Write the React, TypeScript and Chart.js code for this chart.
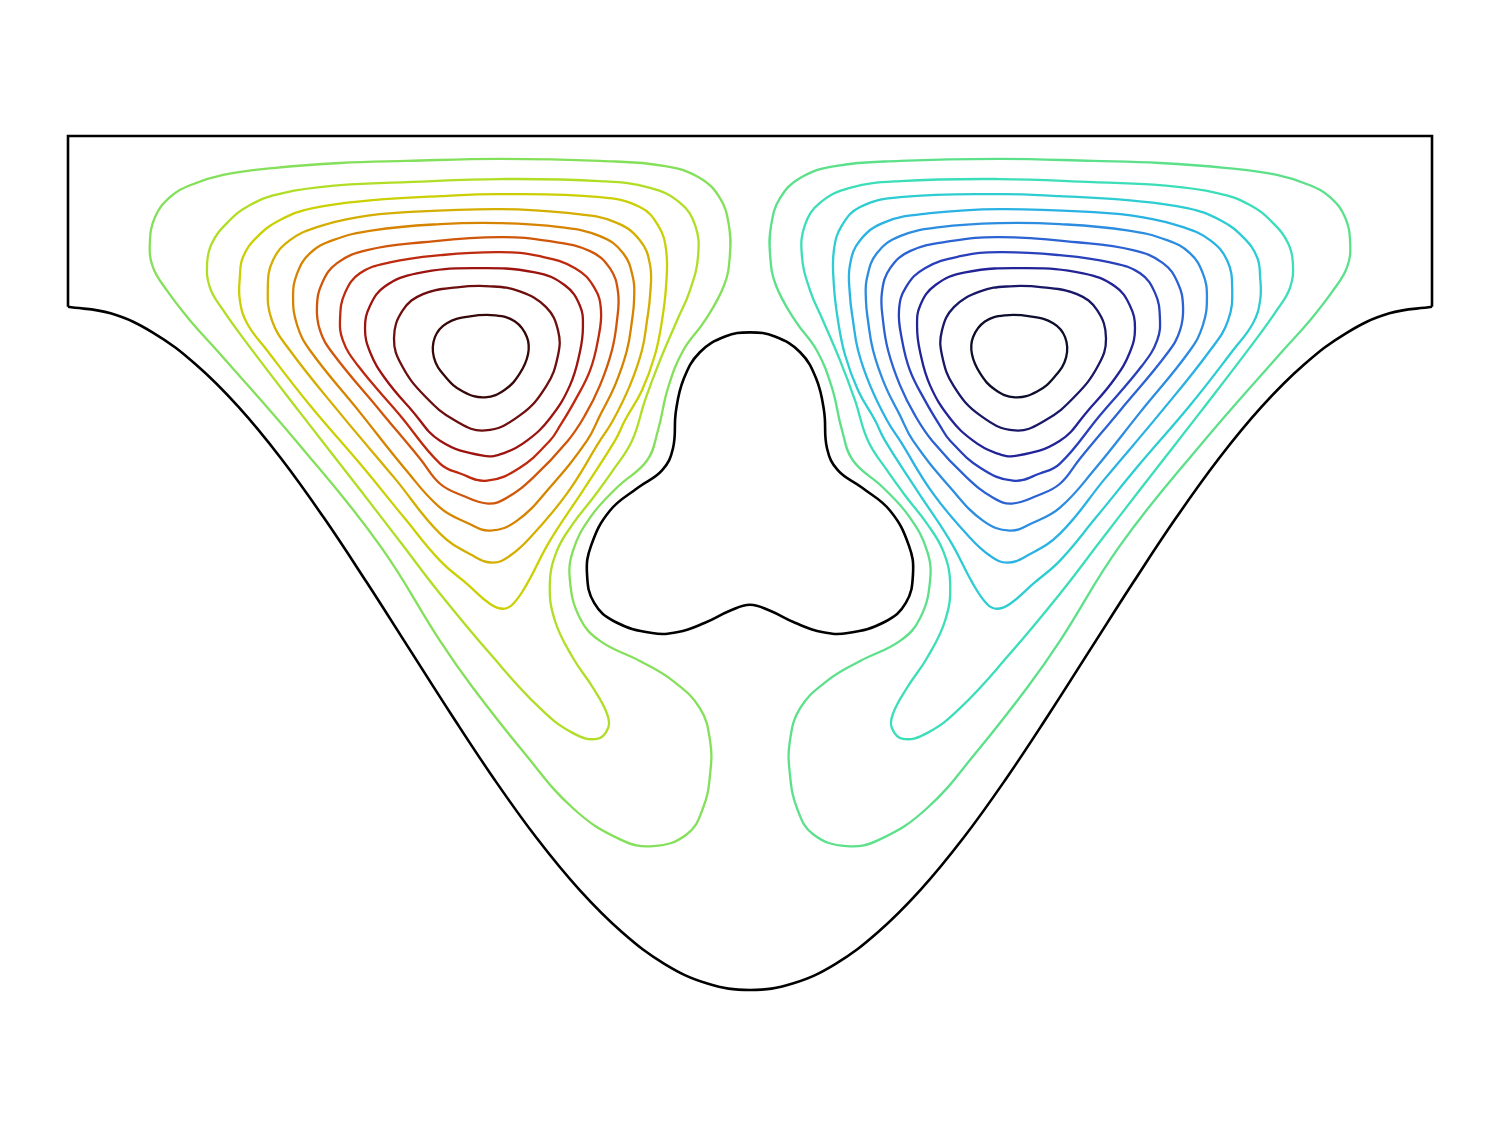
import { useEffect, useRef } from "react";
import { Chart, registerables } from "chart.js";

Chart.register(...registerables);

type P = [number, number];

// Domain walls (x in [-2, 2], y in [-2.5, 0])
const topWall: P[] = [[-2, -0.5], [-2, 0], [2, 0], [2, -0.5]];
const bottomWall: P[] = [
  [-2, -0.5], [-1.875, -0.519], [-1.75, -0.576], [-1.625, -0.669], [-1.5, -0.793],
  [-1.375, -0.944], [-1.25, -1.117], [-1.125, -1.305], [-1, -1.5], [-0.875, -1.695],
  [-0.75, -1.883], [-0.625, -2.056], [-0.5, -2.207], [-0.375, -2.331], [-0.25, -2.424],
  [-0.125, -2.481], [0, -2.5], [0.125, -2.481], [0.25, -2.424], [0.375, -2.331],
  [0.5, -2.207], [0.625, -2.056], [0.75, -1.883], [0.875, -1.695], [1, -1.5],
  [1.125, -1.305], [1.25, -1.117], [1.375, -0.944], [1.5, -0.793], [1.625, -0.669],
  [1.75, -0.576], [1.875, -0.519], [2, -0.5],
];

// Trefoil obstacle
const obstacle: P[] = [
  [0, -0.575], [0.073, -0.587], [0.147, -0.633], [0.194, -0.71], [0.217, -0.804],
  [0.226, -0.915], [0.258, -0.979], [0.328, -1.029], [0.411, -1.097], [0.466, -1.199],
  [0.478, -1.282], [0.457, -1.367], [0.396, -1.422], [0.287, -1.455], [0.211, -1.452],
  [0.132, -1.425], [0.059, -1.39], [0, -1.372], [-0.059, -1.39], [-0.132, -1.425],
  [-0.211, -1.452], [-0.287, -1.455], [-0.396, -1.422], [-0.457, -1.367], [-0.478, -1.282],
  [-0.466, -1.199], [-0.411, -1.097], [-0.328, -1.029], [-0.258, -0.979], [-0.226, -0.915],
  [-0.217, -0.804], [-0.194, -0.71], [-0.147, -0.633], [-0.073, -0.587],
];

// Left vortex streamlines, outermost (L1) to innermost (L10)
const L1: P[] = [
  [-1.745, -0.238], [-1.701, -0.179], [-1.642, -0.144], [-1.545, -0.114], [-1.399, -0.094],
  [-1.202, -0.079], [-1.006, -0.073], [-0.733, -0.067], [-0.44, -0.073], [-0.249, -0.088],
  [-0.147, -0.123], [-0.088, -0.182], [-0.062, -0.261], [-0.059, -0.349], [-0.076, -0.437],
  [-0.132, -0.54], [-0.196, -0.628], [-0.24, -0.736], [-0.27, -0.862], [-0.302, -0.95],
  [-0.39, -1.029], [-0.469, -1.117], [-0.519, -1.214], [-0.528, -1.302], [-0.499, -1.411],
  [-0.44, -1.478], [-0.323, -1.537], [-0.226, -1.595], [-0.147, -1.675], [-0.117, -1.771],
  [-0.117, -1.868], [-0.138, -1.968], [-0.185, -2.044], [-0.284, -2.079], [-0.381, -2.059],
  [-0.519, -1.968], [-0.666, -1.801], [-0.812, -1.616], [-0.909, -1.478], [-1.085, -1.199],
  [-1.32, -0.906], [-1.563, -0.628], [-1.642, -0.54], [-1.71, -0.452], [-1.751, -0.384],
  [-1.76, -0.314],
];
const L2: P[] = [
  [-1.578, -0.314], [-1.534, -0.255], [-1.466, -0.202], [-1.37, -0.167], [-1.202, -0.144],
  [-1.006, -0.135], [-0.733, -0.126], [-0.44, -0.132], [-0.293, -0.152], [-0.205, -0.196],
  [-0.161, -0.261], [-0.152, -0.349], [-0.176, -0.452], [-0.214, -0.54], [-0.264, -0.657],
  [-0.308, -0.774], [-0.346, -0.892], [-0.402, -0.979], [-0.46, -1.059], [-0.519, -1.135],
  [-0.566, -1.214], [-0.587, -1.311], [-0.572, -1.419], [-0.519, -1.528], [-0.46, -1.616],
  [-0.419, -1.692], [-0.416, -1.733], [-0.449, -1.765], [-0.519, -1.748], [-0.616, -1.675],
  [-0.762, -1.516], [-0.909, -1.34], [-1.026, -1.188], [-1.144, -1.035], [-1.32, -0.809],
  [-1.475, -0.607], [-1.545, -0.51], [-1.584, -0.443], [-1.592, -0.372],
];
const L3: P[] = [
  [-1.487, -0.355], [-1.446, -0.296], [-1.378, -0.246], [-1.282, -0.211], [-1.106, -0.188],
  [-0.909, -0.176], [-0.733, -0.17], [-0.44, -0.179], [-0.323, -0.208], [-0.27, -0.261],
  [-0.246, -0.334], [-0.246, -0.437], [-0.258, -0.54], [-0.279, -0.642], [-0.317, -0.745],
  [-0.367, -0.833], [-0.396, -0.892], [-0.49, -1.038], [-0.587, -1.185], [-0.654, -1.311],
  [-0.695, -1.37], [-0.724, -1.384], [-0.762, -1.37], [-0.83, -1.311], [-0.909, -1.243],
  [-1.012, -1.12], [-1.144, -0.959], [-1.29, -0.789], [-1.416, -0.628], [-1.475, -0.548],
  [-1.496, -0.481], [-1.496, -0.413],
];
const L4: P[] = [
  [-1.399, -0.364], [-1.349, -0.305], [-1.27, -0.267], [-1.153, -0.238], [-1.006, -0.223],
  [-0.733, -0.214], [-0.528, -0.226], [-0.396, -0.252], [-0.323, -0.305], [-0.293, -0.378],
  [-0.293, -0.466], [-0.302, -0.54], [-0.317, -0.628], [-0.352, -0.73], [-0.402, -0.833],
  [-0.44, -0.892], [-0.537, -1.047], [-0.645, -1.176], [-0.704, -1.229], [-0.754, -1.249],
  [-0.812, -1.229], [-0.909, -1.164], [-1.041, -1.003], [-1.202, -0.812], [-1.349, -0.628],
  [-1.402, -0.54], [-1.414, -0.443],
];
const L5: P[] = [
  [-1.328, -0.402], [-1.29, -0.343], [-1.223, -0.305], [-1.106, -0.276], [-0.909, -0.258],
  [-0.733, -0.255], [-0.557, -0.267], [-0.44, -0.293], [-0.372, -0.343], [-0.343, -0.416],
  [-0.34, -0.481], [-0.346, -0.54], [-0.361, -0.628], [-0.396, -0.73], [-0.44, -0.818],
  [-0.478, -0.892], [-0.587, -1.029], [-0.683, -1.126], [-0.762, -1.155], [-0.83, -1.132],
  [-0.909, -1.088], [-1.012, -0.974], [-1.144, -0.809], [-1.29, -0.628], [-1.328, -0.554],
  [-1.34, -0.472],
];
const L6: P[] = [
  [-1.255, -0.431], [-1.211, -0.372], [-1.123, -0.334], [-0.959, -0.311], [-0.733, -0.296],
  [-0.587, -0.308], [-0.469, -0.337], [-0.411, -0.387], [-0.387, -0.457], [-0.39, -0.54],
  [-0.405, -0.628], [-0.44, -0.73], [-0.484, -0.818], [-0.534, -0.892], [-0.636, -1.0],
  [-0.713, -1.059], [-0.768, -1.076], [-0.842, -1.053], [-0.909, -1.018], [-0.968, -0.944],
  [-1.085, -0.804], [-1.226, -0.633], [-1.261, -0.569], [-1.27, -0.501],
];
const L7: P[] = [
  [-1.188, -0.46], [-1.144, -0.402], [-1.056, -0.37], [-0.909, -0.349], [-0.733, -0.34],
  [-0.616, -0.352], [-0.513, -0.387], [-0.457, -0.443], [-0.437, -0.51], [-0.446, -0.598],
  [-0.469, -0.686], [-0.513, -0.774], [-0.557, -0.848], [-0.587, -0.892], [-0.675, -0.971],
  [-0.771, -1.009], [-0.85, -0.988], [-0.909, -0.959], [-1.026, -0.818], [-1.15, -0.672],
  [-1.194, -0.598], [-1.202, -0.531],
];
const L8: P[] = [
  [-1.114, -0.496], [-1.07, -0.44], [-0.977, -0.402], [-0.812, -0.387], [-0.631, -0.399],
  [-0.543, -0.437], [-0.499, -0.496], [-0.49, -0.56], [-0.499, -0.633], [-0.528, -0.73],
  [-0.587, -0.827], [-0.654, -0.892], [-0.718, -0.927], [-0.783, -0.936], [-0.909, -0.892],
  [-0.991, -0.804], [-1.07, -0.71], [-1.114, -0.633], [-1.129, -0.563],
];
const L9: P[] = [
  [-1.018, -0.51], [-0.959, -0.463], [-0.859, -0.443], [-0.762, -0.44], [-0.675, -0.455],
  [-0.598, -0.501], [-0.563, -0.569], [-0.563, -0.642], [-0.598, -0.733], [-0.675, -0.818],
  [-0.777, -0.862], [-0.865, -0.833], [-0.953, -0.762], [-1.021, -0.672], [-1.044, -0.592],
];
const L10: P[] = [
  [-0.889, -0.548], [-0.821, -0.528], [-0.748, -0.525], [-0.689, -0.543], [-0.654, -0.589],
  [-0.651, -0.639], [-0.675, -0.695], [-0.718, -0.742], [-0.777, -0.765], [-0.842, -0.748],
  [-0.894, -0.704], [-0.927, -0.648], [-0.924, -0.589],
];

const leftContours: P[][] = [L1, L2, L3, L4, L5, L6, L7, L8, L9, L10];
// The right vortex is the mirror image of the left one (x -> -x)
const rightContours: P[][] = leftContours.map((c) => c.map(([x, y]) => [-x, y] as P));

const leftColors = [
  "#84e05a", "#b0de26", "#cbd004", "#d4ae00", "#d68400",
  "#d0560a", "#be2a0e", "#9c1410", "#6e0e0e", "#380808",
];
const rightColors = [
  "#5ce08a", "#3cdeb9", "#2dcdd2", "#2ab2e2", "#2c8ce0",
  "#2c63d3", "#2940bb", "#222397", "#191866", "#0d0d2c",
];

const loopPlugin = {
  id: "closedLoops",
  afterDatasetUpdate(chart: any, args: any) {
    const ds = chart.data.datasets[args.index] as any;
    const line = args.meta && args.meta.dataset;
    if (ds && ds.closed && line) {
      line._loop = true;
      line._fullLoop = true;
      line._pointsUpdated = false;
      delete line._segments;
      line._path = undefined;
    }
  },
};

const toXY = (pts: P[]) => pts.map(([x, y]) => ({ x, y }));

export default function App() {
  const ref = useRef<HTMLCanvasElement | null>(null);

  useEffect(() => {
    if (!ref.current) return;
    const contourSet = (pts: P[], color: string) => ({
      data: toXY(pts),
      borderColor: color,
      borderWidth: 2.3,
      borderJoinStyle: "round",
      borderCapStyle: "round",
      pointRadius: 0,
      tension: 0.42,
      fill: false,
      clip: false,
      closed: true,
    });
    const datasets: any[] = [];
    leftContours.forEach((c, i) => datasets.push(contourSet(c, leftColors[i])));
    rightContours.forEach((c, i) => datasets.push(contourSet(c, rightColors[i])));
    datasets.push({ ...contourSet(obstacle, "#000000"), borderWidth: 2.6 });
    datasets.push({
      data: toXY(bottomWall),
      borderColor: "#000000",
      borderWidth: 2.6,
      pointRadius: 0,
      tension: 0.4,
      fill: false,
      clip: false,
    });
    datasets.push({
      data: toXY(topWall),
      borderColor: "#000000",
      borderWidth: 2.6,
      pointRadius: 0,
      tension: 0,
      fill: false,
      clip: false,
      borderJoinStyle: "miter",
    });

    const chart = new Chart(ref.current, {
      type: "line",
      data: { datasets },
      options: {
        responsive: false,
        animation: false,
        events: [],
        layout: { padding: { left: 68, right: 69, top: 136, bottom: 136 } },
        scales: {
          x: { type: "linear", min: -2, max: 2, display: false },
          y: { type: "linear", min: -2.5, max: 0, display: false },
        },
        plugins: { legend: { display: false }, tooltip: { enabled: false } },
        elements: { point: { radius: 0 } },
      },
      plugins: [loopPlugin],
    } as any);
    return () => chart.destroy();
  }, []);

  return (
    <div style={{ position: "absolute", left: 0, top: 0, width: 1501, height: 1126, background: "#fff" }}>
      <canvas ref={ref} width={1501} height={1126} style={{ display: "block" }} />
    </div>
  );
}
